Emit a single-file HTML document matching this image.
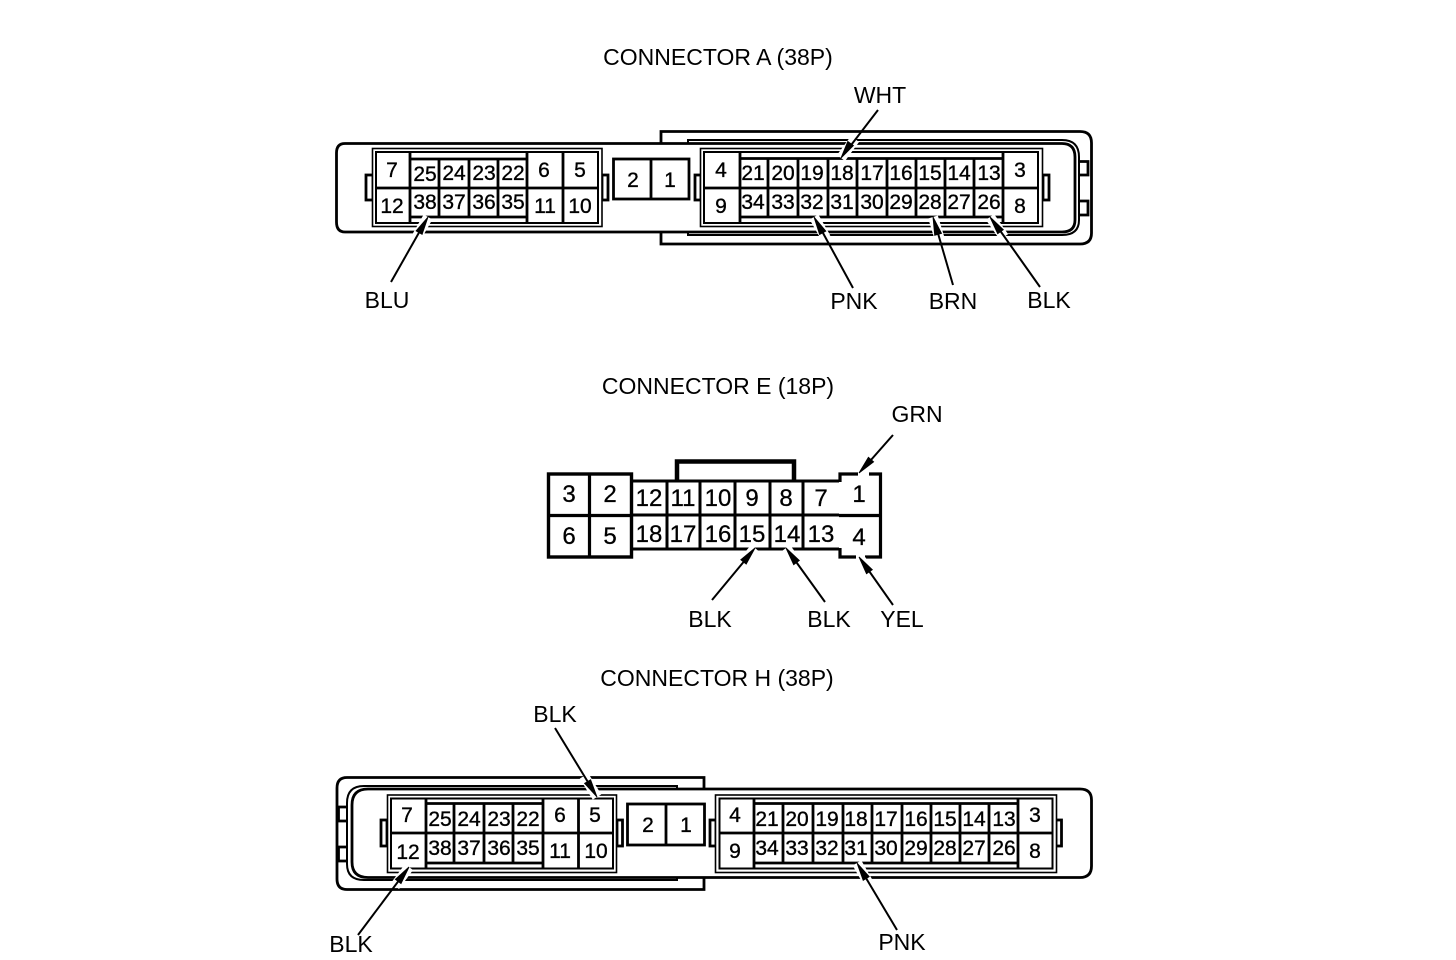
<!DOCTYPE html>
<html><head><meta charset="utf-8"><style>
html,body{margin:0;padding:0;background:#fff;width:1456px;height:960px;overflow:hidden}
svg{display:block}
text{font-family:"Liberation Sans",sans-serif;fill:#000}
.n{font-size:21px;text-anchor:middle;stroke:#000;stroke-width:.35px}
.m{font-size:24px;text-anchor:middle;stroke:#000;stroke-width:.3px}
.l{font-size:23px;text-anchor:middle}
.d path,.d rect{fill:none;stroke:#000;stroke-width:2.8}
.d .w{fill:#fff}
.d .o{fill:#fff;stroke-width:1.6}
.d .i{fill:#fff;stroke-width:2}
</style></head><body>
<svg width="1456" height="960" viewBox="0 0 1456 960" xmlns="http://www.w3.org/2000/svg">
<rect width="1456" height="960" fill="#fff"/>

<!-- CONNECTOR A shapes -->
<g class="d">
<path d="M661 143 V131.5 H1080 Q1091.5 131.5 1091.5 143 V233 Q1091.5 244 1080 244 H661 V232"/>
<path class="w" d="M345 143.5 H1062 Q1075 143.5 1075 157 V220 Q1075 232 1062 232 H345 Q336.5 232 336.5 222 V153 Q336.5 143.5 345 143.5Z"/>
<path style="stroke-width:2" d="M688 143 V140 H1062 Q1079 140 1079 157 V220 Q1079 235 1062 235 H688 V232"/>
<path d="M1079 161.5 H1088 V175 H1079 M1079 201 H1088 V215 H1079"/>
<rect x="366" y="175" width="7" height="25"/><rect x="602" y="175" width="6" height="25"/>
<rect class="o" x="372.5" y="148.5" width="229.5" height="78"/>
<rect class="i" x="376" y="152" width="222" height="71"/>
<path d="M410 152 V223 M410 159 H527 M410 217 H527 M375 188 H598 M439 159 V217 M469 159 V217 M498 159 V217 M527 152 V223 M563 152 V223"/>
<rect class="w" x="613.5" y="159" width="75.5" height="40"/><path d="M651 159 V199"/>
<rect x="695" y="175" width="6" height="25"/><rect x="1043" y="175" width="6" height="25"/>
<rect class="o" x="700.5" y="148.5" width="342" height="78"/>
<rect class="i" x="704" y="152" width="334" height="71"/>
<path d="M740 152 V223 M740 158.5 H1003 M740 217 H1003 M704 188 H1038 M768 158.5 V217 M798 158.5 V217 M828 158.5 V217 M857 158.5 V217 M887 158.5 V217 M916 158.5 V217 M945 158.5 V217 M974 158.5 V217 M1003 152 V223"/>
</g>

<!-- CONNECTOR E shapes -->
<g class="d">
<path style="stroke-width:3" d="M632 481 H839 M632 549 H839 M632 515 H839 M667 481 V549 M700 481 V549 M735 481 V549 M770 481 V549 M803 481 V549"/>
<path style="stroke-width:4.5" d="M677 481 V461.5 H794 V481"/>
<rect class="w" x="548.5" y="474" width="83" height="83" style="stroke-width:3.4"/>
<path style="stroke-width:3.2" d="M548 515.5 H632 M589.5 474 V557"/>
<path style="stroke-width:3.2" d="M840 482 V474 H858 M869 474 H880.5 V557 H865 M856 557 H840 V548 M839 515.5 H881"/>
</g>

<!-- CONNECTOR H shapes -->
<g class="d">
<path d="M704 789 V777.5 H347 Q337 777.5 337 788 V879 Q337 889.5 347 889.5 H704 V878"/>
<path style="stroke-width:2" d="M677 789 V786 H364 Q347 786 347 803 V864 Q347 880 364 880 H677 V877"/>
<path class="w" d="M368 789 H1080 Q1091.5 789 1091.5 800 V866 Q1091.5 877.5 1080 877.5 H368 Q352 877.5 352 862 V805 Q352 789 368 789Z"/>
<path d="M347 807 H338.5 V821 H347 M347 847 H338.5 V861 H347"/>
<rect x="381" y="820" width="6" height="26"/><rect x="617" y="820" width="5.5" height="26"/>
<rect class="o" x="387.5" y="795" width="229" height="77.5"/>
<rect class="i" x="391" y="798.5" width="222" height="70"/>
<path d="M426 798 V869 M426 803.5 H543 M426 863 H543 M390 833 H614 M454 803.5 V863 M484 803.5 V863 M513 803.5 V863 M543 798 V869 M578.5 798 V869"/>
<rect class="w" x="627.5" y="804" width="77" height="41"/><path d="M666 804 V845"/>
<rect x="710" y="820" width="6" height="26"/><rect x="1056" y="820" width="5.5" height="26"/>
<rect class="o" x="715.5" y="795" width="341" height="77.5"/>
<rect class="i" x="719.5" y="798.5" width="333" height="70"/>
<path d="M754 798 V869 M754 803.5 H1018 M754 863 H1018 M719 833 H1053 M783 803.5 V863 M813 803.5 V863 M843 803.5 V863 M872 803.5 V863 M902 803.5 V863 M931 803.5 V863 M960 803.5 V863 M989 803.5 V863 M1018 798 V869"/>
</g>

<!-- arrow halos -->
<g stroke="#fff" stroke-width="10" fill="none">
<path d="M841 158 L855 139"/><path d="M428 217 L416 238"/><path d="M814 217 L826 238"/><path d="M933 217 L940 240"/><path d="M990 217 L1004 237"/>
<path d="M859 473 L875 455"/><path d="M755 548 L740 566"/><path d="M786 548 L800 567"/><path d="M859 557 L873 577"/>
<path d="M597 797 L584 776"/><path d="M409 867 L395 886"/><path d="M857 863 L869 884"/>
</g>
<!-- arrow shafts -->
<g stroke="#000" stroke-width="2" fill="none">
<path d="M878 110 L845 153"/><path d="M391 282 L425 222"/><path d="M853 288 L817 222"/><path d="M953 285 L935 223"/><path d="M1040 287 L994 222"/>
<path d="M893 435 L863 469"/><path d="M712 600 L751 553"/><path d="M825 602 L789 552"/><path d="M893 605 L862 561"/>
<path d="M555 728 L594 792"/><path d="M358 935 L406 871"/><path d="M897 930 L860 868"/>
</g>
<!-- arrowheads -->
<g fill="#000" stroke="#000" stroke-width=".9">
<polygon points="841,158 853.4,145.6 847.8,141.4"/>
<polygon points="428,217 422.1,234.3 416.1,230.9"/>
<polygon points="814,217 825.8,231.1 819.6,234.5"/>
<polygon points="933,217 941.5,233.3 934.7,235.3"/>
<polygon points="990,217 1003.3,229.7 997.7,233.7"/>
<polygon points="859,473 873.6,461.9 868.4,457.3"/>
<polygon points="755,548 746.2,564.1 740.8,559.7"/>
<polygon points="786,548 799.3,560.5 793.7,564.7"/>
<polygon points="859,557 872.3,569.7 866.5,573.7"/>
<polygon points="597,797 590.6,779.8 584.6,783.4"/>
<polygon points="409,867 401,883.5 395.4,879.3"/>
<polygon points="857,863 869.2,876.7 863.2,880.3"/>
</g>

<!-- CONNECTOR A text -->
<g>
<text class="l" x="718" y="65">CONNECTOR A (38P)</text>
<text class="l" x="880" y="103">WHT</text>
<text class="l" x="387" y="308">BLU</text>
<text class="l" x="854" y="309">PNK</text>
<text class="l" x="953" y="309">BRN</text>
<text class="l" x="1049" y="308">BLK</text>
</g>
<g>
<text class="n" x="392" y="177">7</text><text class="n" x="392" y="213">12</text>
<text class="n" x="425" y="181">25</text><text class="n" x="454" y="180">24</text><text class="n" x="484" y="180">23</text><text class="n" x="513" y="180">22</text>
<text class="n" x="425" y="209">38</text><text class="n" x="454" y="209">37</text><text class="n" x="484" y="209">36</text><text class="n" x="513" y="209">35</text>
<text class="n" x="544" y="177">6</text><text class="n" x="580" y="177">5</text><text class="n" x="545" y="213">11</text><text class="n" x="580" y="213">10</text>
<text class="n" x="633" y="187">2</text><text class="n" x="670" y="187">1</text>
<text class="n" x="721" y="177">4</text><text class="n" x="721" y="213">9</text>
<text class="n" x="753" y="180">21</text><text class="n" x="783" y="180">20</text><text class="n" x="812" y="180">19</text><text class="n" x="842" y="180">18</text><text class="n" x="872" y="180">17</text><text class="n" x="901" y="180">16</text><text class="n" x="930" y="180">15</text><text class="n" x="959" y="180">14</text><text class="n" x="989" y="180">13</text>
<text class="n" x="753" y="209">34</text><text class="n" x="783" y="209">33</text><text class="n" x="812" y="209">32</text><text class="n" x="842" y="209">31</text><text class="n" x="872" y="209">30</text><text class="n" x="901" y="209">29</text><text class="n" x="930" y="209">28</text><text class="n" x="959" y="209">27</text><text class="n" x="989" y="209">26</text>
<text class="n" x="1020" y="177">3</text><text class="n" x="1020" y="213">8</text>
</g>

<!-- CONNECTOR E text -->
<g>
<text class="l" x="718" y="394">CONNECTOR E (18P)</text>
<text class="l" x="917" y="422">GRN</text>
<text class="l" x="710" y="627">BLK</text>
<text class="l" x="829" y="627">BLK</text>
<text class="l" x="902" y="627">YEL</text>
</g>
<g>
<text class="m" x="569" y="502">3</text><text class="m" x="610" y="502">2</text><text class="m" x="569" y="544">6</text><text class="m" x="610" y="544">5</text>
<text class="m" x="649" y="506">12</text><text class="m" x="683" y="506">11</text><text class="m" x="718" y="506">10</text><text class="m" x="752" y="506">9</text><text class="m" x="786" y="506">8</text><text class="m" x="821" y="506">7</text>
<text class="m" x="649" y="542">18</text><text class="m" x="683" y="542">17</text><text class="m" x="718" y="542">16</text><text class="m" x="752" y="542">15</text><text class="m" x="787" y="542">14</text><text class="m" x="821" y="542">13</text>
<text class="m" x="859" y="502">1</text><text class="m" x="859" y="545">4</text>
</g>

<!-- CONNECTOR H text -->
<g>
<text class="l" x="717" y="686">CONNECTOR H (38P)</text>
<text class="l" x="555" y="722">BLK</text>
<text class="l" x="351" y="952">BLK</text>
<text class="l" x="902" y="950">PNK</text>
</g>
<g>
<text class="n" x="407" y="822">7</text><text class="n" x="408" y="859">12</text>
<text class="n" x="440" y="826">25</text><text class="n" x="469" y="826">24</text><text class="n" x="499" y="826">23</text><text class="n" x="528" y="826">22</text>
<text class="n" x="440" y="855">38</text><text class="n" x="469" y="855">37</text><text class="n" x="499" y="855">36</text><text class="n" x="528" y="855">35</text>
<text class="n" x="560" y="822">6</text><text class="n" x="595" y="822">5</text><text class="n" x="560" y="858">11</text><text class="n" x="596" y="858">10</text>
<text class="n" x="648" y="832">2</text><text class="n" x="686" y="832">1</text>
<text class="n" x="735" y="822">4</text><text class="n" x="735" y="858">9</text>
<text class="n" x="767" y="826">21</text><text class="n" x="797" y="826">20</text><text class="n" x="827" y="826">19</text><text class="n" x="856" y="826">18</text><text class="n" x="886" y="826">17</text><text class="n" x="916" y="826">16</text><text class="n" x="945" y="826">15</text><text class="n" x="974" y="826">14</text><text class="n" x="1004" y="826">13</text>
<text class="n" x="767" y="855">34</text><text class="n" x="797" y="855">33</text><text class="n" x="827" y="855">32</text><text class="n" x="856" y="855">31</text><text class="n" x="886" y="855">30</text><text class="n" x="916" y="855">29</text><text class="n" x="945" y="855">28</text><text class="n" x="974" y="855">27</text><text class="n" x="1004" y="855">26</text>
<text class="n" x="1035" y="822">3</text><text class="n" x="1035" y="858">8</text>
</g>
</svg>
</body></html>
